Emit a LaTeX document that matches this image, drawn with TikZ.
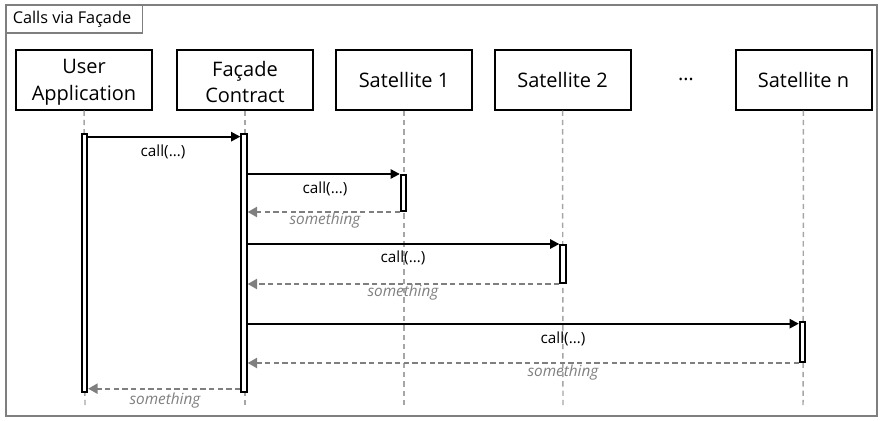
\documentclass[tikz,border=0pt]{standalone}
\usepackage{fontspec}
\setmainfont{Open Sans}
\usetikzlibrary{positioning,arrows.meta}
\definecolor{framegray}{HTML}{7F7F7F}
\definecolor{lifegray}{HTML}{A6A6A6}
\newcommand{\lowerline}{\rule{0pt}{15.2pt}}
\tikzset{
  party/.style={draw, line width=1.5pt, minimum width=102pt, minimum height=45pt,
    align=center, inner sep=0pt, font=\fontsize{15}{20}\selectfont},
  bar/.style={draw, line width=1.5pt, fill=white, minimum width=4pt, inner sep=0pt},
  lifeline/.style={draw=lifegray, line width=1.1pt, dash pattern=on 4pt off 3pt},
  callarrow/.style={draw, line width=1.5pt, -{Triangle[length=7pt,width=7pt]}},
  backarrow/.style={draw=framegray, line width=1.5pt, dash pattern=on 4pt off 2.5pt,
    -{Triangle[length=7pt,width=7.5pt]}},
  msg/.style={font=\fontsize{11.5}{13}\selectfont, inner sep=0pt},
  reply/.style={msg, text=framegray, font=\fontsize{11.5}{13}\selectfont\itshape}
}
\begin{document}
\begin{tikzpicture}[x=0.75pt,y=-0.75pt]
    \useasboundingbox (0,0) rectangle (885,421);
    \draw[framegray, line width=1.5pt] (6,5) rectangle (877,416);
    \draw[framegray, line width=1.1pt] (6,5) rectangle (142.5,33);
    \node[anchor=west, inner sep=0pt, font=\fontsize{12.2}{14}\selectfont] (title) at (12.5,19) {Calls via Façade};
    % participants
    \node[party] (user) at (84,79.5) {\lowerline User\\Application};
    \node[party] (facade) at (245,79.5) {\lowerline Façade\\Contract};
    \node[party] (sat1) at (404,79.5) {Satellite 1};
    \node[party] (sat2) at (562.5,79.5) {Satellite 2};
    \node[font=\fontsize{15}{20}\selectfont] (dots) at (686,79) {…};
    \node[party] (satn) at (803.5,79.5) {Satellite n};
    \foreach \p/\x in {user/85,facade/245,sat1/404,sat2/563,satn/803} {
        \coordinate (\p-end) at (\x,406);
        \draw[lifeline] (\p) -- (\p-end);
    }
    % activations
    \node[bar, minimum height=194pt] (buser) at (84.5,263) {};
    \node[bar, minimum height=194pt] (bfacade) at (244,263) {};
    \node[bar, minimum height=27pt] (bsat1) at (403.5,193) {};
    \node[bar, minimum height=28.5pt] (bsat2) at (563,264) {};
    \node[bar, minimum height=30pt] (bsatn) at (802.5,342) {};
    % messages
    \draw[callarrow] ([yshift=-3pt]buser.north east) -- ([yshift=-3pt]bfacade.north west);
    \node[msg] (call1) at (163,152) {call(…)};
    \draw[callarrow] (bfacade.east |- bsat1.north) -- (bsat1.north west);
    \node[msg] (call2) at (325,188.5) {call(…)};
    \draw[backarrow] (bsat1.south west) -- (bfacade.east |- bsat1.south);
    \node[reply] (reply2) at (325,221) {something};
    \draw[callarrow] (bfacade.east |- bsat2.north) -- (bsat2.north west);
    \node[msg] (call3) at (403,257.5) {call(…)};
    \draw[backarrow] (bsat2.south west) -- (bfacade.east |- bsat2.south);
    \node[reply] (reply3) at (403,293) {something};
    \draw[callarrow] ([yshift=-2pt]bfacade.east |- bsatn.north) -- ([yshift=-2pt]bsatn.north west);
    \node[msg] (call4) at (563,339) {call(…)};
    \draw[backarrow] (bsatn.south west) -- (bfacade.east |- bsatn.south);
    \node[reply] (reply4) at (563,373) {something};
    \draw[backarrow] ([yshift=3.5pt]bfacade.south west) -- ([yshift=3.5pt]buser.south east);
    \node[reply] (reply1) at (165,401) {something};
\end{tikzpicture}
\end{document}
